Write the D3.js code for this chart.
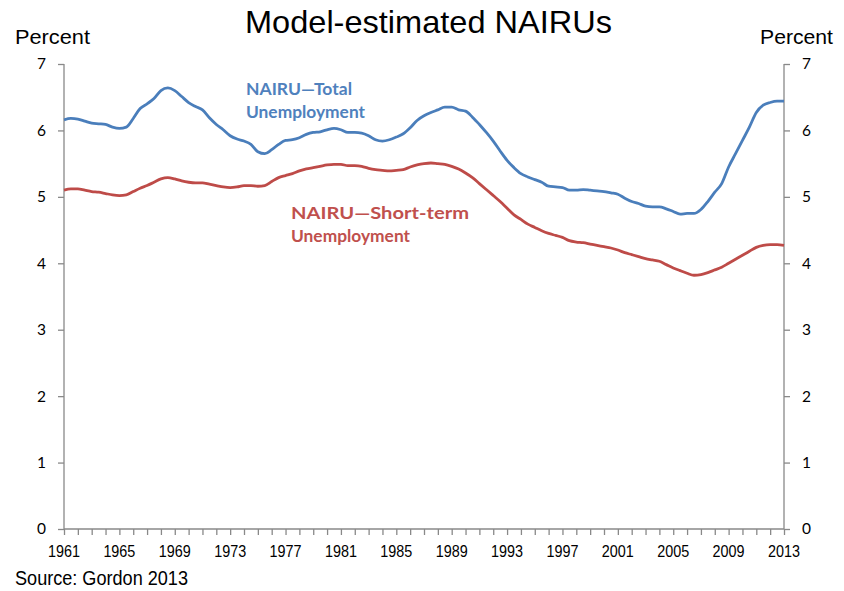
<!DOCTYPE html>
<html>
<head>
<meta charset="utf-8">
<script src="https://cdn.jsdelivr.net/npm/d3@7"></script>
<style>
  body { margin: 0; background: #fff; }
  svg { display: block; }
</style>
</head>
<body>
<svg id="chart" width="844" height="591"></svg>
<script>
// half-yearly points, 1961.0 .. 2013.0
const startYear = 1961;
const endYear = 2013;
const yTicks = [0, 1, 2, 3, 4, 5, 6, 7];
const xLabelYears = [1961, 1965, 1969, 1973, 1977, 1981, 1985, 1989, 1993, 1997, 2001, 2005, 2009, 2013];

const totalNairu = [
  6.16, 6.18, 6.17, 6.14, 6.11, 6.10, 6.09, 6.05, 6.03, 6.05,
  6.18, 6.33, 6.40, 6.48, 6.60, 6.64, 6.60, 6.51, 6.42, 6.36,
  6.31, 6.19, 6.09, 6.01, 5.92, 5.87, 5.84, 5.79, 5.68, 5.65,
  5.71, 5.79, 5.85, 5.86, 5.89, 5.94, 5.97, 5.98, 6.01, 6.03,
  6.01, 5.97, 5.97, 5.96, 5.92, 5.86, 5.84, 5.86, 5.90, 5.95,
  6.04, 6.15, 6.22, 6.27, 6.31, 6.35, 6.35, 6.31, 6.29, 6.20,
  6.09, 5.97, 5.84, 5.69, 5.55, 5.44, 5.35, 5.30, 5.26, 5.22,
  5.16, 5.15, 5.14, 5.10, 5.10, 5.11, 5.10, 5.09, 5.08, 5.06,
  5.04, 4.98, 4.93, 4.90, 4.86, 4.85, 4.85, 4.82, 4.78, 4.74,
  4.75, 4.75, 4.81, 4.93, 5.07, 5.20, 5.45, 5.65, 5.85, 6.05,
  6.27, 6.38, 6.42, 6.44, 6.44
];

const shortTermNairu = [
  5.10, 5.12, 5.12, 5.10, 5.08, 5.07, 5.05, 5.03, 5.02, 5.03,
  5.08, 5.13, 5.17, 5.22, 5.27, 5.29, 5.27, 5.24, 5.22, 5.21,
  5.21, 5.19, 5.17, 5.15, 5.14, 5.15, 5.17, 5.17, 5.16, 5.17,
  5.23, 5.29, 5.32, 5.35, 5.39, 5.42, 5.44, 5.46, 5.48, 5.49,
  5.49, 5.47, 5.47, 5.46, 5.43, 5.41, 5.40, 5.39, 5.40, 5.41,
  5.45, 5.48, 5.50, 5.51, 5.50, 5.49, 5.46, 5.42, 5.36, 5.29,
  5.20, 5.11, 5.02, 4.93, 4.83, 4.73, 4.66, 4.59, 4.54, 4.49,
  4.45, 4.42, 4.39, 4.34, 4.32, 4.31, 4.29, 4.27, 4.25, 4.23,
  4.20, 4.16, 4.13, 4.10, 4.07, 4.05, 4.03, 3.98, 3.93, 3.89,
  3.85, 3.82, 3.83, 3.86, 3.90, 3.94, 4.00, 4.06, 4.12, 4.18,
  4.24, 4.27, 4.28, 4.28, 4.27
];

const svg = d3.select("#chart");
const plotLeft = 64, plotRight = 784, plotTop = 64, plotBottom = 529;
const axisColor = "#898989";
const narrow = "'Liberation Sans', Arial, sans-serif";
const tickFont = "Lato, 'Open Sans', sans-serif";

const x = d3.scaleLinear().domain([startYear, endYear]).range([plotLeft, plotRight]);
const y = d3.scaleLinear().domain([0, 7]).range([plotBottom, plotTop]);

const years = totalNairu.map((d, i) => startYear + i * 0.5);

// axes
const yLeft = svg.append("g").attr("transform", `translate(${plotLeft},0)`)
  .call(d3.axisLeft(y).tickValues(yTicks).tickSize(6).tickPadding(12).tickFormat(d3.format("d")));
const yRight = svg.append("g").attr("transform", `translate(${plotRight},0)`)
  .call(d3.axisRight(y).tickValues(yTicks).tickSize(6).tickPadding(12).tickFormat(d3.format("d")));
const xAxis = svg.append("g").attr("transform", `translate(0,${plotBottom})`)
  .call(d3.axisBottom(x).tickValues(d3.range(startYear, endYear + 1)).tickSize(6).tickFormat(""));

[yLeft, yRight, xAxis].forEach(g => {
  g.selectAll("path, line").attr("stroke", axisColor).attr("stroke-width", 1.3);
  g.select(".domain").remove();
});
yLeft.append("line").attr("y1", plotTop).attr("y2", plotBottom).attr("stroke", axisColor).attr("stroke-width", 1.3);
yRight.append("line").attr("y1", plotTop).attr("y2", plotBottom).attr("stroke", axisColor).attr("stroke-width", 1.3);
xAxis.append("line").attr("x1", plotLeft).attr("x2", plotRight).attr("stroke", axisColor).attr("stroke-width", 1.3);

[yLeft, yRight].forEach(g => g.selectAll("text")
  .attr("fill", "#000").style("font-family", tickFont).style("font-size", "15.5px"));

// x labels: narrow look via textLength
svg.append("g").selectAll("text").data(xLabelYears).join("text")
  .attr("x", d => x(d) - 16).attr("y", plotBottom + 28)
  .attr("textLength", 32).attr("lengthAdjust", "spacingAndGlyphs")
  .style("font-family", narrow).style("font-size", "16.5px")
  .text(d => d);

// lines
const line = d3.line().x((d, i) => x(years[i])).y(d => y(d)).curve(d3.curveMonotoneX);
svg.append("path").datum(shortTermNairu).attr("d", line)
  .attr("fill", "none").attr("stroke", "#be4b48").attr("stroke-width", 2.8);
svg.append("path").datum(totalNairu).attr("d", line)
  .attr("fill", "none").attr("stroke", "#4a7ebb").attr("stroke-width", 2.8);

// series labels
const lab = svg.append("g").style("font-family", tickFont).style("font-weight", "bold").style("font-size", "17px")
  .attr("lengthAdjust", "spacingAndGlyphs");
const labels = [
  { t: "NAIRU\u2014Total", x: 246, y: 95, w: 106, c: "#4f81bd" },
  { t: "Unemployment", x: 246, y: 118, w: 119, c: "#4f81bd" },
  { t: "NAIRU\u2014Short-term", x: 291, y: 219, w: 178, c: "#c0504d" },
  { t: "Unemployment", x: 291, y: 242, w: 119, c: "#c0504d" }
];
labels.forEach(l => lab.append("text").attr("x", l.x).attr("y", l.y)
  .attr("textLength", l.w).attr("lengthAdjust", "spacingAndGlyphs")
  .attr("fill", l.c).text(l.t));

// titles
svg.append("text").attr("x", 245).attr("y", 33)
  .attr("textLength", 367).attr("lengthAdjust", "spacingAndGlyphs")
  .style("font-family", narrow).style("font-size", "32px").text("Model-estimated NAIRUs");
svg.append("text").attr("x", 15).attr("y", 44)
  .attr("textLength", 75).attr("lengthAdjust", "spacingAndGlyphs")
  .style("font-family", narrow).style("font-size", "20.5px").text("Percent");
svg.append("text").attr("x", 760).attr("y", 44)
  .attr("textLength", 73).attr("lengthAdjust", "spacingAndGlyphs")
  .style("font-family", narrow).style("font-size", "20.5px").text("Percent");
svg.append("text").attr("x", 15).attr("y", 585)
  .attr("textLength", 173).attr("lengthAdjust", "spacingAndGlyphs")
  .style("font-family", narrow).style("font-size", "20.5px").text("Source: Gordon 2013");
</script>
</body>
</html>
